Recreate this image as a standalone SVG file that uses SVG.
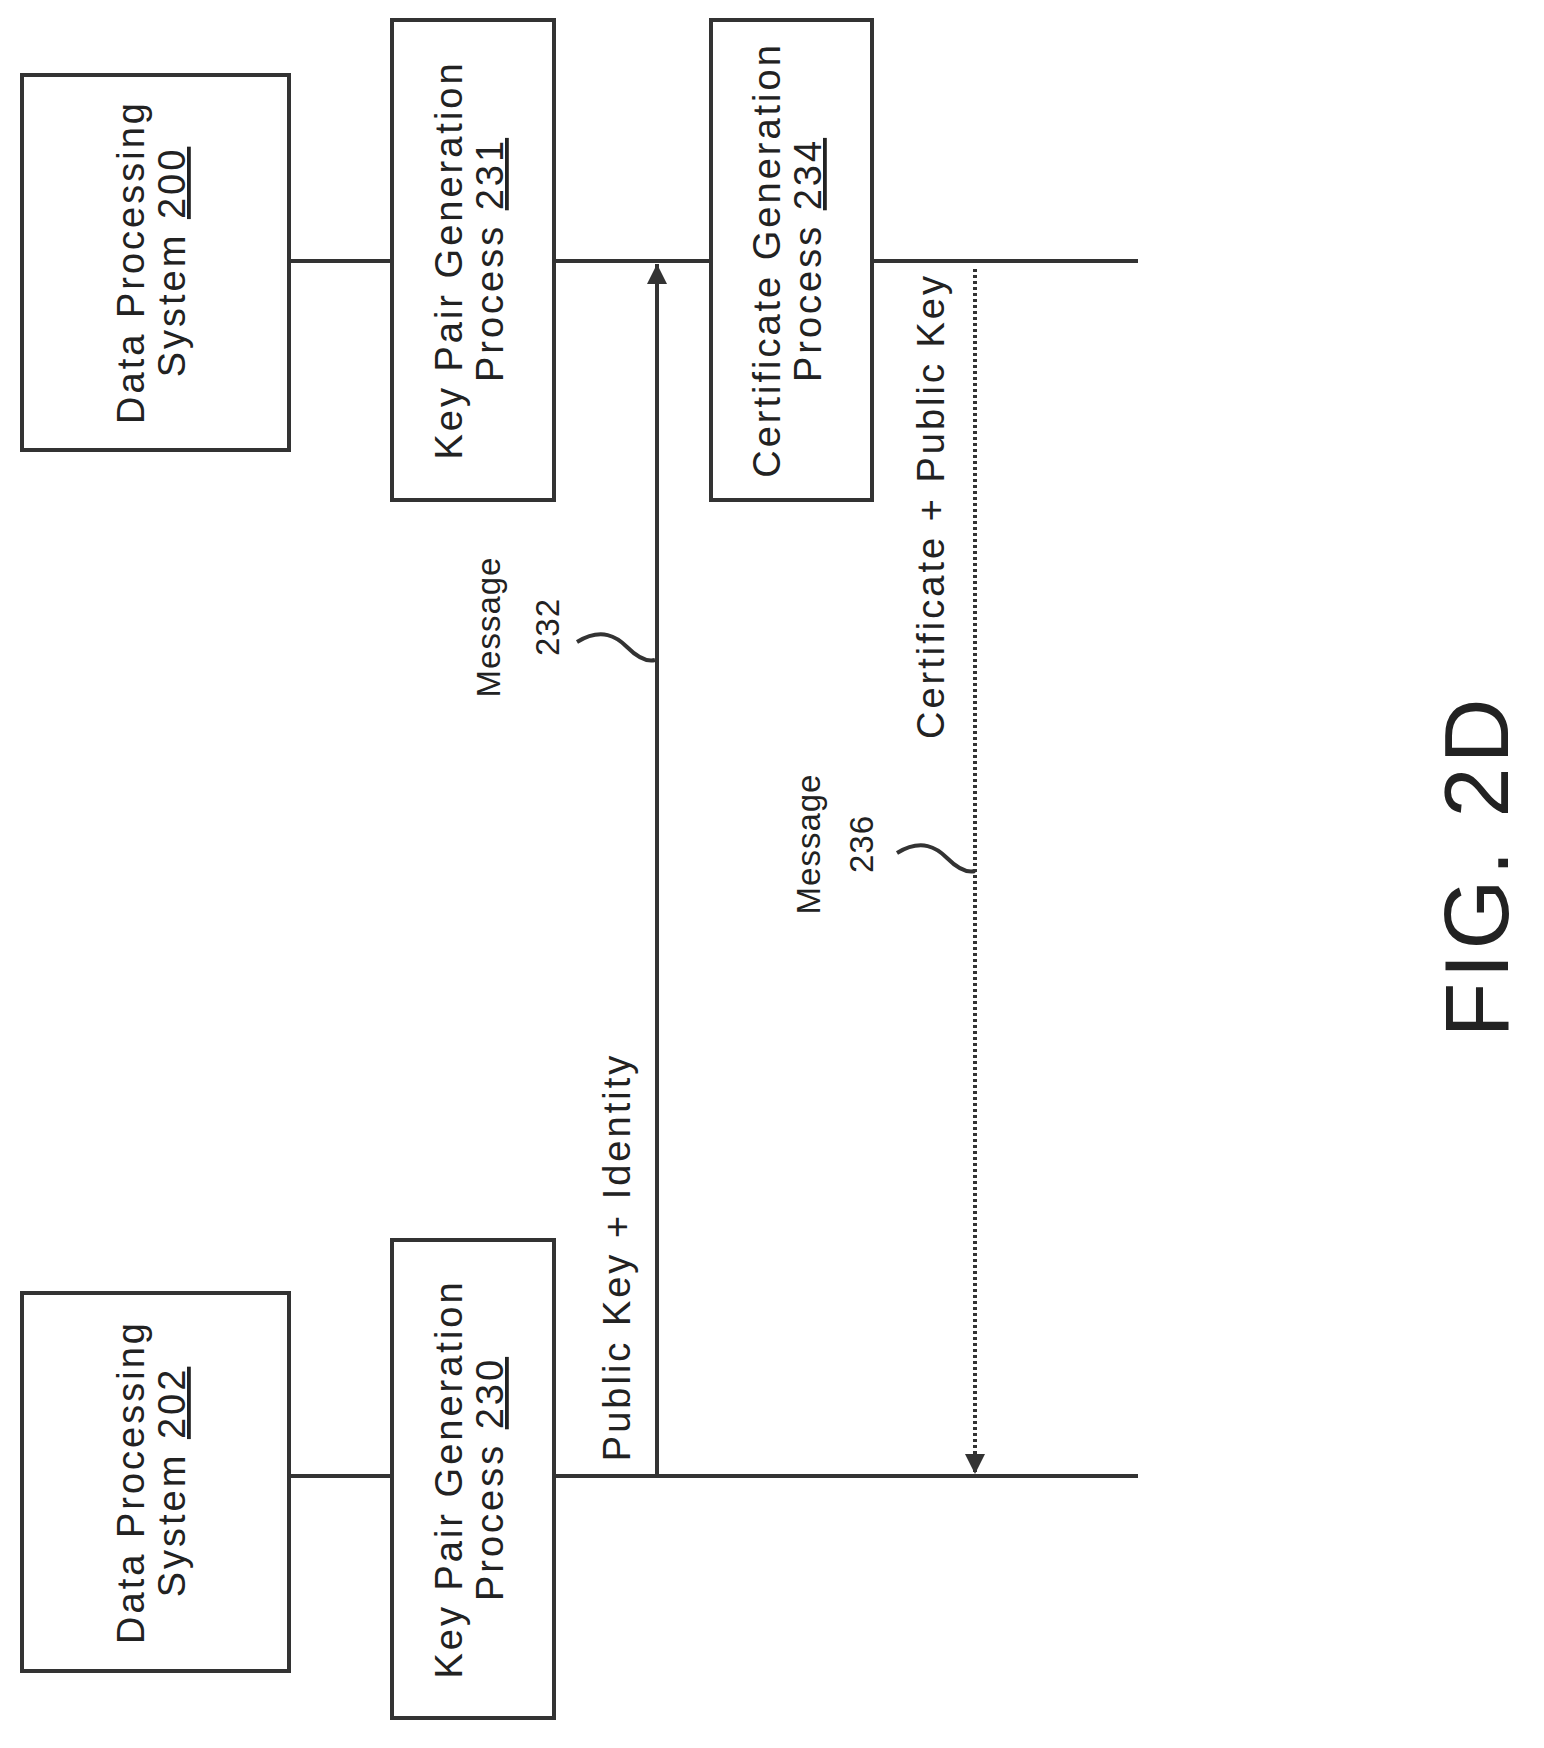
<svg xmlns="http://www.w3.org/2000/svg" width="1544" height="1748" viewBox="0 0 1544 1748">
<style>
.b{fill:#fff;stroke:#333;stroke-width:4}
.l{stroke:#333;stroke-width:4;fill:none}
text{font-family:"Liberation Sans",Arial,sans-serif;font-size:38px;letter-spacing:3px;fill:#222;text-anchor:middle}
.m{font-size:33px;letter-spacing:1px}
</style>
<defs>
<marker id="ah" viewBox="0 0 10 10" refX="10" refY="5" markerWidth="5" markerHeight="5" orient="auto"><path d="M0,0L10,5L0,10z" fill="#333"/></marker>
</defs>
<rect width="1544" height="1748" fill="#fff"/>
<g id="connectors">
<path class="l" d="M289,261H392M554,261H711M872,261H1138"/>
<path class="l" d="M289,1476H392M554,1476H1138"/>
<path class="l" d="M657,1476V264" marker-end="url(#ah)"/>
<path class="l" d="M975,269V1474" stroke-dasharray="3,3" marker-end="url(#ah)"/>
<path class="l" stroke-width="3" d="M577,642c25,-15 40,-5 50,5s20,15 28,13"/>
<path class="l" stroke-width="3" d="M897,853c25,-15 40,-5 50,5s20,15 28,13"/>
</g>
<g id="dps200"><rect class="b" x="22" y="75" width="267" height="375"/>
<text transform="translate(155,262) rotate(-90)"><tspan x="0" y="-11">Data Processing</tspan><tspan x="0" y="30">System <tspan text-decoration="underline">200</tspan></tspan></text></g>
<g id="kpg231"><rect class="b" x="392" y="20" width="162" height="480"/>
<text transform="translate(473,260) rotate(-90)"><tspan x="0" y="-11">Key Pair Generation</tspan><tspan x="0" y="30">Process <tspan text-decoration="underline">231</tspan></tspan></text></g>
<g id="cgp234"><rect class="b" x="711" y="20" width="161" height="480"/>
<text transform="translate(791,260) rotate(-90)"><tspan x="0" y="-11">Certificate Generation</tspan><tspan x="0" y="30">Process <tspan text-decoration="underline">234</tspan></tspan></text></g>
<g id="dps202"><rect class="b" x="22" y="1293" width="267" height="378"/>
<text transform="translate(155,1482) rotate(-90)"><tspan x="0" y="-11">Data Processing</tspan><tspan x="0" y="30">System <tspan text-decoration="underline">202</tspan></tspan></text></g>
<g id="kpg230"><rect class="b" x="392" y="1240" width="162" height="478"/>
<text transform="translate(473,1479) rotate(-90)"><tspan x="0" y="-11">Key Pair Generation</tspan><tspan x="0" y="30">Process <tspan text-decoration="underline">230</tspan></tspan></text></g>
<g id="labels">
<text transform="translate(630,1257) rotate(-90)">Public Key + Identity</text>
<text class="m" transform="translate(517,627) rotate(-90)"><tspan x="0" y="-17">Message</tspan><tspan x="0" y="42">232</tspan></text>
<text transform="translate(944,506) rotate(-90)">Certificate + Public Key</text>
<text class="m" transform="translate(835,844) rotate(-90)"><tspan x="0" y="-15">Message</tspan><tspan x="0" y="38">236</tspan></text>
<text transform="translate(1508,866) rotate(-90)" style="font-size:90px;letter-spacing:4px">FIG. 2D</text>
</g>
</svg>
